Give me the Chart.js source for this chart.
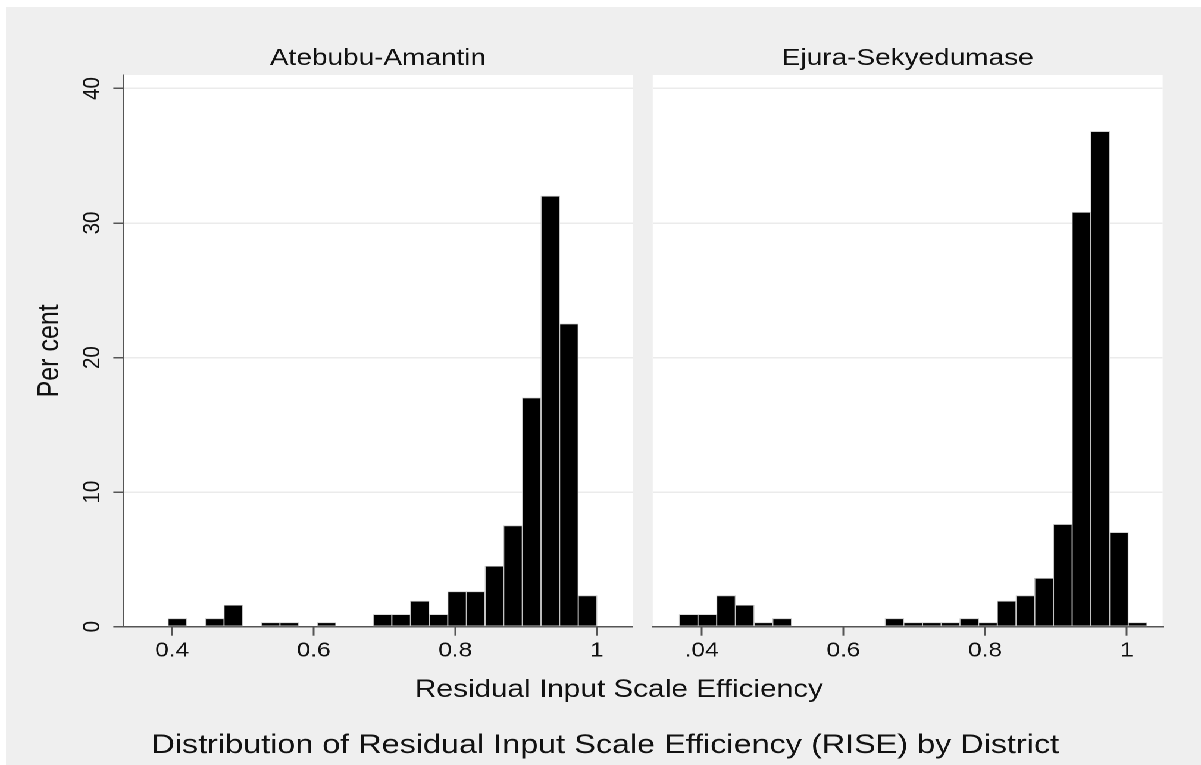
<!DOCTYPE html>
<html><head><meta charset="utf-8">
<script src="https://cdn.jsdelivr.net/npm/chart.js@4.4.1/dist/chart.umd.min.js"></script>
<style>
html,body{margin:0;padding:0;background:#fff;width:1201px;height:765px;overflow:hidden;}
#bg{position:absolute;left:6px;top:7px;width:1195px;height:758px;background:#efefef;}
#wrap{position:absolute;left:0;top:0;width:1009px;height:765px;transform:scaleX(1.19029);transform-origin:0 0;}
#wrap canvas{position:absolute;left:0;top:0;width:1009px;height:765px;}
</style></head><body>
<div id="bg"></div>
<div id="wrap"><canvas id="cL" width="1009" height="765"></canvas><canvas id="cR" width="1009" height="765"></canvas></div>
<script>
// ---- data ----
const panelTitles = ['Atebubu-Amantin', 'Ejura-Sekyedumase'];
const leftBins = [0.4074,0.4337,0.4601,0.4864,0.5128,0.5391,0.5654,0.5918,0.6181,0.6445,0.6708,0.6971,0.7235,0.7498,0.7762,0.8025,0.8288,0.8552,0.8815,0.9079,0.9342,0.9605,0.9869];
const leftPct  = [0.6,0,0.6,1.6,0,0.3,0.3,0,0.3,0,0,0.9,0.9,1.9,0.9,2.6,2.6,4.5,7.5,17.0,32.0,22.5,2.3];
const rightBins = [0.3816,0.4080,0.4344,0.4608,0.4872,0.5136,0.5400,0.5664,0.5928,0.6192,0.6456,0.6720,0.6984,0.7248,0.7512,0.7776,0.8040,0.8304,0.8568,0.8832,0.9096,0.9360,0.9624,0.9888,1.0152];
const rightPct  = [0.9,0.9,2.3,1.6,0.3,0.6,0,0,0,0,0,0.6,0.3,0.3,0.3,0.6,0.3,1.9,2.3,3.6,7.6,30.8,36.8,7.0,0.3];
const xTickValues = [0.4, 0.6, 0.8, 1.0];
const leftTickLabels = ['0.4', '0.6', '0.8', '1'];
const rightTickLabels = ['.04', '0.6', '0.8', '1'];
const yTickValues = [0, 10, 20, 30, 40];
const yTitle = 'Per cent';
const xTitle = 'Residual Input Scale Efficiency';
const mainTitle = 'Distribution of Residual Input Scale Efficiency (RISE) by District';

// ---- styling ----
const FONT = '"Liberation Sans", Arial, Helvetica, sans-serif';
const AXIS = '#555555';
const TXT = '#111111';

const plotBg = {
  id: 'plotBg',
  beforeDraw(chart) {
    const {ctx, chartArea: a} = chart;
    ctx.save();
    ctx.fillStyle = '#ffffff';
    ctx.fillRect(a.left, a.top, a.right - a.left, a.bottom - a.top);
    ctx.restore();
  }
};

function textPlugin(title, withShared) {
  return {
    id: 'texts',
    afterDraw(chart) {
      const {ctx, chartArea: a} = chart;
      ctx.save();
      ctx.fillStyle = TXT;
      ctx.textAlign = 'center';
      ctx.textBaseline = 'alphabetic';
      ctx.font = '23.5px ' + FONT;
      ctx.fillText(title, (a.left + a.right) / 2, 65);
      if (withShared) {
        ctx.font = '25px ' + FONT;
        ctx.fillText(xTitle, 520, 697);
        ctx.font = '27.2px ' + FONT;
        ctx.fillText(mainTitle, 508.5, 753);
      }
      ctx.restore();
    }
  };
}

function makeChart(id, bins, pct, tickLabels, isLeft, title) {
  return new Chart(document.getElementById(id), {
    type: 'bar',
    data: {
      datasets: [{
        data: bins.map((x, i) => ({x: x, y: pct[i]})),
        backgroundColor: '#000000',
        borderColor: '#c4c4c4',
        borderWidth: 0.8,
        borderSkipped: false,
        barPercentage: 1,
        categoryPercentage: 1
      }]
    },
    options: {
      responsive: false,
      animation: false,
      devicePixelRatio: 2,
      layout: {padding: {left: isLeft ? 0 : 548.4, right: isLeft ? 477.5 : 32.2, top: 75, bottom: 0}},
      plugins: {legend: {display: false}, tooltip: {enabled: false}, title: {display: false}},
      scales: {
        x: {
          type: 'linear', min: 0.331, max: 1.0505, offset: false,
          afterBuildTicks: ax => { ax.ticks = xTickValues.map(v => ({value: v})); },
          afterFit: ax => { ax.height = 138.3; },
          ticks: {
            callback: (v, i) => tickLabels[i],
            font: {family: FONT, size: 20.5}, color: TXT, padding: 3,
            maxRotation: 0, minRotation: 0, autoSkip: false
          },
          grid: {drawOnChartArea: false, drawTicks: true, tickLength: 9, tickColor: AXIS, tickWidth: 1.5, offset: false},
          border: {display: true, color: AXIS, width: 1.5}
        },
        y: {
          type: 'linear', min: 0, max: 41,
          afterBuildTicks: ax => { ax.ticks = yTickValues.map(v => ({value: v})); },
          afterFit: ax => { ax.width = isLeft ? 103.6 : 0; },
          ticks: {
            display: isLeft,
            font: {family: FONT, size: 20.5}, color: TXT,
            minRotation: 90, maxRotation: 90, crossAlign: 'center', padding: 5.9
          },
          grid: {color: '#ebebeb', lineWidth: 1.5, drawTicks: isLeft, tickLength: 8.4, tickColor: AXIS, tickWidth: 1.5},
          border: {display: isLeft, color: AXIS, width: 1.5},
          title: {display: isLeft, text: yTitle, font: {family: FONT, size: 25}, color: TXT, padding: {top: 27, bottom: 0}}
        }
      }
    },
    plugins: [plotBg, textPlugin(title, isLeft)]
  });
}

makeChart('cL', leftBins, leftPct, leftTickLabels, true, panelTitles[0]);
makeChart('cR', rightBins, rightPct, rightTickLabels, false, panelTitles[1]);
</script>
</body></html>
